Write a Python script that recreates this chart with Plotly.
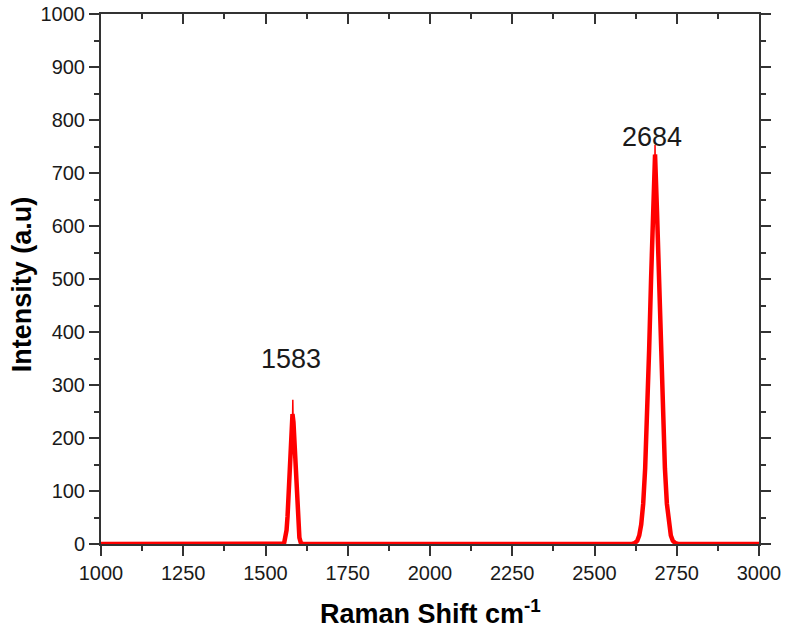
import plotly.graph_objects as go

# Thick fitted curve
fit_x = [1000, 1552, 1557, 1561, 1564, 1567, 1570, 1573, 1576, 1579, 1582,
         1585, 1588, 1591, 1594, 1597, 1600, 1603, 1607, 1612,
         2614, 2622, 2630, 2636, 2642, 2648, 2654, 2660, 2666, 2672, 2678, 2684,
         2690, 2696, 2702, 2708, 2714, 2720, 2726, 2732, 2738, 2746, 2754, 3000]
fit_y = [0, 0.5, 3, 12, 26, 52, 90, 140, 191, 230, 245,
         230, 191, 140, 90, 52, 26, 12, 3, 0.5,
         0, 1.5, 6, 16, 37, 76, 143, 240, 365, 501, 627, 735,
         627, 501, 365, 240, 143, 76, 37, 16, 6, 1.5, 0, 0]

# Thin raw spikes at the peak tops
raw_x = [1582, 1583, 1584, None, 2683, 2684, 2685]
raw_y = [225, 272, 225, None, 700, 753, 700]

peak_labels = ["1583", "2684"]
peak_label_x = [1577, 2674]
peak_label_y = [349, 768]

x_ticks = [1000, 1250, 1500, 1750, 2000, 2250, 2500, 2750, 3000]
y_ticks = [0, 100, 200, 300, 400, 500, 600, 700, 800, 900, 1000]

AX = "#333333"
TXT = "#1a1a1a"
FONT = "Liberation Sans, Arial, sans-serif"

fig = go.Figure()
fig.add_trace(go.Scatter(x=fit_x, y=fit_y, mode="lines",
                         line=dict(color="#ff0000", width=4.5),
                         cliponaxis=False, showlegend=False))
fig.add_trace(go.Scatter(x=raw_x, y=raw_y, mode="lines",
                         line=dict(color="#ff0000", width=1.5),
                         connectgaps=False, cliponaxis=False, showlegend=False))

for t, xv, yv in zip(peak_labels, peak_label_x, peak_label_y):
    fig.add_annotation(x=xv, y=yv, text=t, showarrow=False,
                       font=dict(family=FONT, size=27, color=TXT))

# axis titles as annotations for exact placement
fig.add_annotation(xref="paper", yref="paper", x=0.5015, y=0, yshift=-68,
                   yanchor="middle", xanchor="center", showarrow=False,
                   text="<b>Raman Shift cm<sup>-1</sup></b>",
                   font=dict(family=FONT, size=27, color="#000"))
fig.add_annotation(xref="paper", yref="paper", x=0, xshift=-79, y=0.49,
                   xanchor="center", yanchor="middle", showarrow=False,
                   textangle=-90, text="<b>Intensity (a.u)</b>",
                   font=dict(family=FONT, size=27, color="#000"))

fig.update_layout(
    width=785, height=638,
    margin=dict(l=101, r=26, t=14, b=94, autoexpand=False),
    paper_bgcolor="white", plot_bgcolor="white",
    font=dict(family=FONT, color=TXT),
    xaxis=dict(range=[1000, 3000], tickvals=x_ticks, ticks="outside",
               ticklen=10, tickwidth=2, tickcolor=AX,
               showline=True, linecolor=AX, linewidth=2,
               showgrid=False, zeroline=False, layer="below traces",
               automargin=False, ticklabeloverflow="allow",
               tickfont=dict(size=20, color=TXT),
               minor=dict(dtick=125, ticks="outside", ticklen=5, tickwidth=2, tickcolor=AX)),
    yaxis=dict(range=[0, 1000], tickvals=y_ticks, ticks="outside",
               ticklen=10, tickwidth=2, tickcolor=AX,
               showline=True, linecolor=AX, linewidth=2,
               showgrid=False, zeroline=False, layer="below traces",
               automargin=False, ticklabeloverflow="allow",
               tickfont=dict(size=20, color=TXT),
               minor=dict(dtick=50, ticks="outside", ticklen=5, tickwidth=2, tickcolor=AX)),
    xaxis2=dict(overlaying="x", side="top", range=[1000, 3000], tickvals=x_ticks,
                ticks="inside", ticklen=10, tickwidth=2, tickcolor=AX,
                showticklabels=False, showline=True, linecolor=AX, linewidth=2,
                showgrid=False, zeroline=False, automargin=False,
                minor=dict(dtick=125, ticks="inside", ticklen=5, tickwidth=2, tickcolor=AX)),
    yaxis2=dict(overlaying="y", side="right", range=[0, 1000], tickvals=y_ticks,
                ticks="outside", ticklen=10, tickwidth=2, tickcolor=AX,
                showticklabels=False, showline=True, linecolor=AX, linewidth=2,
                showgrid=False, zeroline=False, automargin=False,
                minor=dict(dtick=50, ticks="outside", ticklen=5, tickwidth=2, tickcolor=AX)),
)
# invisible trace to activate secondary axes
fig.add_trace(go.Scatter(x=[1000], y=[0], xaxis="x2", yaxis="y2", mode="markers",
                         marker=dict(opacity=0), hoverinfo="skip", showlegend=False))

# remove the page's default 8px body margin so the figure fills the window exactly
fig.write_html("out.html", config={"displayModeBar": False},
               post_script="document.body.style.margin='0px';")
